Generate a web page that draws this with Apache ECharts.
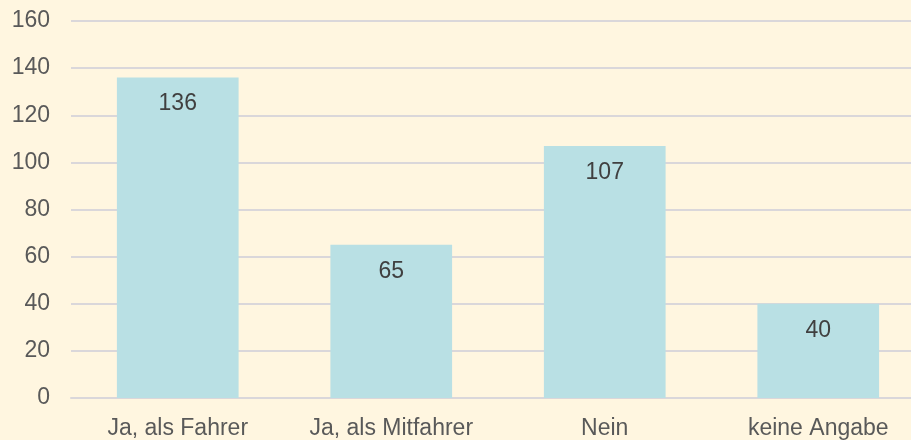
<!DOCTYPE html>
<html>
<head>
<meta charset="utf-8">
<script src="https://cdn.jsdelivr.net/npm/echarts@6/dist/echarts.min.js"></script>
<style>
  html, body { margin: 0; padding: 0; background: #FFF6E0; }
  #wrap { width: 911px; height: 440px; overflow: hidden; position: relative; }
  /* a bit wider than the window: the original plot area is cut at the right */
  #chart { position: absolute; left: 0; top: 0; width: 925px; height: 440px; }
</style>
</head>
<body>
<div id="wrap"><div id="chart"></div></div>
<script>
const categories = ['Ja, als Fahrer', 'Ja, als Mitfahrer', 'Nein', 'keine Angabe']
const values = [136, 65, 107, 40]
const yTicks = { min: 0, max: 160, interval: 20 }

let myChart = echarts.init(document.getElementById('chart'))
let option = {
  backgroundColor: '#FFF6E0',
  textStyle: { fontFamily: 'Liberation Sans, Arial, sans-serif' },
  grid: { left: 71, right: 0, top: 21, bottom: 41 },
  xAxis: {
    type: 'category',
    data: categories,
    axisLine: { show: true, lineStyle: { color: '#DAD7DA', width: 2 } },
    axisTick: { show: false },
    axisLabel: { color: '#595959', fontSize: 23, margin: 19, interval: 0 }
  },
  yAxis: {
    type: 'value',
    min: yTicks.min,
    max: yTicks.max,
    interval: yTicks.interval,
    axisLine: { show: false },
    axisTick: { show: false },
    axisLabel: { color: '#595959', fontSize: 23, margin: 21 },
    splitLine: { lineStyle: { color: '#DAD7DA', width: 2 } }
  },
  series: [{
    type: 'bar',
    data: values,
    barWidth: '57%',
    itemStyle: { color: '#B9E0E4' },
    label: {
      show: true,
      position: 'insideTop',
      distance: 15,
      color: '#404040',
      fontSize: 23
    }
  }]
}
myChart.setOption(option)
</script>
</body>
</html>
